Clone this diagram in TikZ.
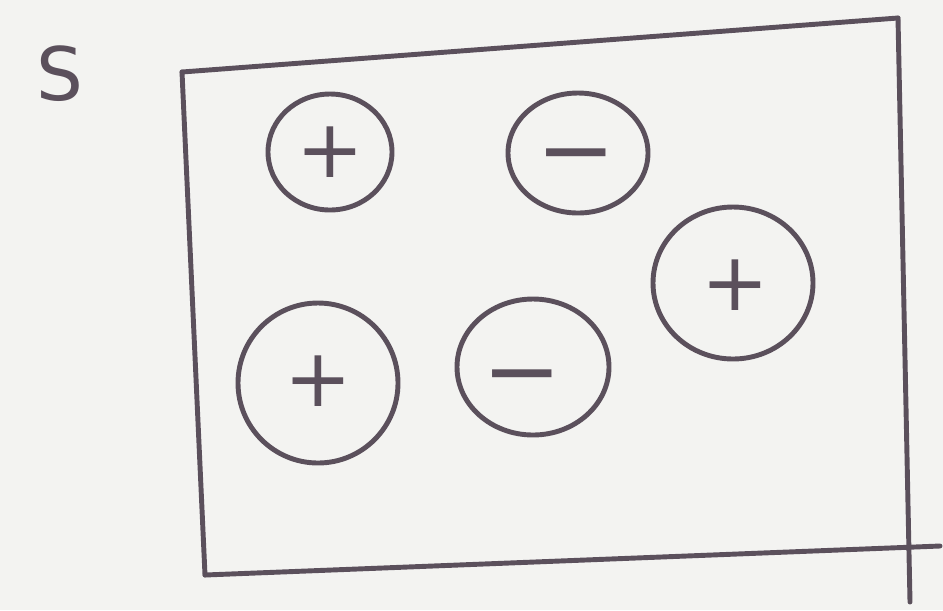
\documentclass[tikz,border=0pt]{standalone}
\usepackage{fontspec}
\setsansfont{DejaVu Sans}
\begin{document}
\begin{tikzpicture}[x=0.02cm,y=-0.02cm,
  ink/.style={draw=inkc,line width=2.8pt,line cap=round,line join=round},
  sign/.style={text=inkc,font=\sffamily\fontsize{46}{46}\selectfont},
  minus/.style={text=inkc,font=\sffamily\fontsize{54}{54}\selectfont}]
\definecolor{inkc}{HTML}{5B505C}
\definecolor{paper}{HTML}{F3F3F1}
\fill[paper] (0,0) rectangle (943,610);
\useasboundingbox (0,0) rectangle (943,610);
% label
\node[text=inkc,font=\sffamily\fontsize{42}{42}\selectfont] (s) at (60,74) {S};
% box
\coordinate (tl) at (182,72);
\coordinate (tr) at (898,18);
\coordinate (bl) at (205,575);
\coordinate (br) at (940,546);
\coordinate (rb) at (910,602);
\draw[ink] (tl) -- (tr);
\draw[ink] (tl) -- (bl);
\draw[ink] (bl) -- (br);
\draw[ink] (tr) -- (rb);
% charges
\draw[ink] (330,152) ellipse [x radius=62,y radius=58];
\node[sign] (p1) at (330,152) {+};
\draw[ink] (578,153) ellipse [x radius=70,y radius=60];
\node[minus] (m1) at (576,166) {−};
\draw[ink] (733,283) ellipse [x radius=80,y radius=76];
\node[sign] (p2) at (735,285) {+};
\draw[ink] (318,383) ellipse [x radius=80,y radius=80];
\node[sign] (p3) at (318,381) {+};
\draw[ink] (533,367) ellipse [x radius=76,y radius=68];
\node[minus] (m2) at (522,387) {−};
\end{tikzpicture}
\end{document}
